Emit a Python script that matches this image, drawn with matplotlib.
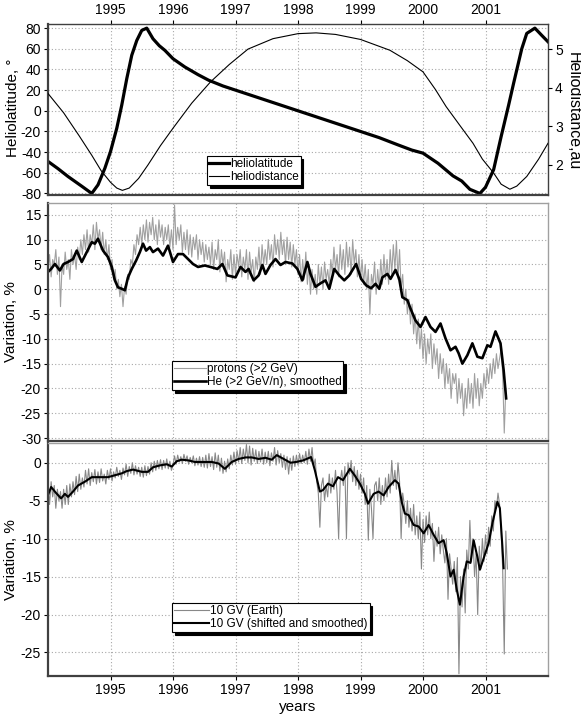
import numpy as np
import matplotlib
matplotlib.use("Agg")
import matplotlib.pyplot as plt

plt.rcParams["font.family"] = ["Liberation Sans", "DejaVu Sans"]
plt.rcParams["axes.unicode_minus"] = False

# ---- top panel: Ulysses heliolatitude and heliodistance
lat_years = [1994.00, 1994.16, 1994.32, 1994.54, 1994.70, 1994.80, 1994.91, 1995.00,
             1995.10, 1995.18, 1995.26, 1995.34, 1995.42, 1995.50, 1995.58, 1995.68,
             1995.78, 1995.87, 1996.00, 1996.19, 1996.40, 1996.57, 1996.80, 1997.00,
             1997.25, 1997.50, 1997.75, 1998.00, 1998.50, 1999.00, 1999.30, 1999.60,
             1999.82, 2000.00, 2000.24, 2000.48, 2000.62, 2000.75, 2000.91, 2001.00,
             2001.13, 2001.25, 2001.37, 2001.45, 2001.58, 2001.66, 2001.79, 2001.90,
             2002.00]
lat_deg = [-49, -56, -63.6, -73, -80, -71.7, -55.6, -39.5,
           -17, 5.5, 31, 53.7, 68, 77.8, 80, 69.7,
           63, 58.5, 50.4, 42.4, 35, 29.6, 24, 20,
           15, 10, 5, 0, -10, -20, -26, -33,
           -38, -41, -50.8, -63, -68, -76, -80, -74,
           -57, -25, 5.5, 26.7, 60, 74.9, 80, 73,
           66.8]

dist_years = [1994.00, 1994.25, 1994.50, 1994.70, 1994.85, 1995.00, 1995.10, 1995.19,
              1995.30, 1995.45, 1995.60, 1995.80, 1996.00, 1996.30, 1996.60, 1996.90,
              1997.20, 1997.60, 1998.00, 1998.29, 1998.60, 1999.00, 1999.47, 1999.75,
              2000.00, 2000.20, 2000.37, 2000.60, 2000.80, 2000.95, 2001.13, 2001.25,
              2001.39, 2001.50, 2001.66, 2001.85, 2002.00]
dist_au = [3.85, 3.35, 2.75, 2.25, 1.85, 1.55, 1.40, 1.34,
           1.40, 1.65, 2.00, 2.50, 2.95, 3.60, 4.15, 4.60,
           5.00, 5.27, 5.40, 5.42, 5.38, 5.25, 4.97, 4.70,
           4.41, 3.95, 3.51, 3.00, 2.56, 2.15, 1.79, 1.50,
           1.37, 1.45, 1.70, 2.15, 2.56]

# ---- daily-ish grey series, one value every 0.025 yr from 1994.0
SAMPLE_START = 1994.0
SAMPLE_STEP = 0.025

protons_var = [
    4, 7, 2.5, 6, 5, 8, 3, 6.5, -3.5, 5, 3, 7.5, 4, 6, 2, 8, 5, 7, 4, 8.5,
    6, 10, 7, 11, 8, 12, 7.5, 11, 9, 13, 8, 13.5, 10, 12, 8, 11.5, 7, 10, 6, 9,
    4, 6, 2, 4, 0, 2, -1.5, 1, -3.5, 0.5, -1, 3, 2, 6, 5, 9, 7, 11, 9, 12.5,
    9, 13, 10, 14, 9.5, 13.5, 11, 14.5, 10, 13, 9, 14, 10.5, 13, 9, 12.5, 10, 13, 8.5, 12,
    8, 17, 9, 12.5, 10, 13, 7.5, 11.5, 8, 12, 7, 11, 6.5, 10.5, 8, 11, 6, 10, 7, 9.5,
    5.5, 9, 6, 8.5, 5, 9.5, 4, 8, 6, 10, 3.5, 8, 5, 7.5, 1.5, 6, 4, 8, 2, 7,
    3, 7, 4.5, 8, 2.5, 6.5, 4, 8, 2, 7.5, 3.5, 6, 1.5, 6.5, 4, 8.5, 3, 9, 5, 8,
    5, 10, 6, 9, 4.5, 11, 7, 10, 6, 11.5, 7, 10, 5, 10.5, 6, 9.5, 4.5, 9, 5, 8,
    3, 7, 1.5, 6, 2, 7.5, 1, 5, -1, 4, 0, 3, -1, 5, 1, 4.5, 0, 5.5, 2, 4,
    1, 6, 3, 8.5, 4, 7, 2.5, 9, 4, 8, 3, 9.5, 4.5, 8.5, 3, 10, 5, 8, 2.5, 7,
    2, 6, 1, 5, 0, 4, -5, 3, 1, 5.5, -1, 4, 0, 6, 1, 7, 2, 6, 1, 8,
    3, 9, 4, 9.8, 2, 8, 0, 3, -3, 0, -5, -2, -7, -3, -9, -5, -11, -6, -12, -8,
    -14, -9, -15, -10, -13, -9, -16, -11, -15, -12, -18, -13, -17, -14, -20, -15, -19, -16, -22, -17,
    -19, -17, -23, -18, -22, -19, -25.5, -20, -24, -18, -23, -19, -24, -17, -22, -18, -23.5, -19, -22, -17,
    -20, -16, -19, -15, -18, -14, -17, -13, -16, -14, -12, -17, -29, -20,
]

earth_var = [
    -3, -5.5, -2.5, -4.5, -3, -6, -3.5, -5, -3.8, -6, -3.5, -5.5, -3, -5.5, -2.8, -4.5, -2.5, -4.2, -1.8, -3.8,
    -1.5, -3.5, -2, -3.2, -1, -2.8, -0.8, -3, -1.3, -2.5, -0.9, -2.8, -1.2, -2.6, -0.8, -2.4, -1.5, -2.8, -1, -2.2,
    -0.8, -2.4, -1.2, -2, -0.6, -1.8, -1, -2.2, -0.7, -1.6, -0.2, -1.8, -0.5, -1.4, 0, -1.6, -0.4, -1.5, -0.6, -1.8,
    -0.6, -1.9, -0.4, -1.7, -0.5, -1.5, 0, -1.2, 0.2, -1, 0.3, -0.8, 0.4, -0.9, 0.3, -0.7, 0.5, -0.8, 0.2, -1,
    -0.3, 0.9, -0.2, 1.0, 0.1, 0.8, -0.1, 1.1, 0.2, 0.9, -0.2, 0.7, 0, 0.9, -0.4, 0.6, -0.3, 0.8, -0.5, 0.7,
    -0.6, 1.0, -0.7, 1.2, -0.5, 0.8, -0.9, 1.3, -0.6, 1.0, -1.1, 0.6, -1.4, 0.2, -1.2, 0.5, -0.8, 1.0, -0.3, 1.4,
    -0.2, 1.6, 0.1, 2.0, -0.1, 1.8, 0.3, 2.4, 0, 2.2, -0.3, 1.9, 0.2, 1.7, -0.1, 1.5, 0.1, 1.8, -0.2, 1.4,
    0, 1.5, -0.4, 1.3, 0.2, 2.0, -0.3, 1.6, 0, 1.2, -0.6, 1.0, -0.9, 0.8, -1.5, 0.6, -1.0, 0.9, -0.5, 1.0,
    -0.3, 1.2, -0.1, 1.0, 0, 1.5, -0.2, 1.8, 0.2, 2.0, -0.5, 0.5, -2.5, -4, -8.5, -3, -2, -5, -3, -4.5,
    -1.5, -4, -2, -3.5, -1, -4, -10, -2.5, -1, -3, -0.5, -10, 0, -1.5, 0.3, -2.5, -0.5, -3, -1, -3.5,
    -1.5, -4, -2, -5.5, -3, -10.2, -3.5, -6, -10, -3, -2.5, -5, -2, -5.5, -3, -5, -2, -4.5, -1.5, -4,
    0.3, -3, -1, -3.5, 0, -2.5, -10, -4, -5.5, -8, -5, -8.5, -6, -9, -5.5, -9.5, -7, -10, -6.5, -14,
    -7.5, -10.5, -7, -9.5, -6.5, -10, -8, -13, -9, -11, -8.5, -12, -9.5, -11.5, -13.2, -10, -18, -12, -14, -16,
    -13, -17, -12.5, -27.8, -15, -19, -14, -19.8, -11.5, -14, -7.6, -13, -10, -15, -12, -20, -11, -14, -10, -13,
    -9.5, -12, -8.5, -11, -7, -9, -5, -6, -4, -5.5, -9, -14, -25.2, -9, -14,
]

# ---- middle panel: He smoothed
he_years = [1994.00, 1994.05, 1994.11, 1994.19, 1994.25, 1994.32, 1994.40, 1994.46,
            1994.54, 1994.62, 1994.70, 1994.75, 1994.80, 1994.88, 1994.96, 1995.02,
            1995.07, 1995.12, 1995.18, 1995.23, 1995.28, 1995.34, 1995.41, 1995.47,
            1995.52, 1995.57, 1995.63, 1995.68, 1995.76, 1995.84, 1995.92, 1996.00,
            1996.08, 1996.16, 1996.24, 1996.32, 1996.40, 1996.51, 1996.60, 1996.71,
            1996.79, 1996.87, 1997.00, 1997.08, 1997.16, 1997.21, 1997.29, 1997.37,
            1997.43, 1997.48, 1997.56, 1997.64, 1997.72, 1997.80, 1997.91, 1997.99,
            1998.07, 1998.15, 1998.20, 1998.28, 1998.36, 1998.44, 1998.50, 1998.58,
            1998.66, 1998.74, 1998.82, 1998.93, 1999.01, 1999.09, 1999.17, 1999.24,
            1999.30, 1999.35, 1999.43, 1999.48, 1999.56, 1999.62, 1999.67, 1999.75,
            1999.80, 1999.88, 1999.96, 2000.04, 2000.12, 2000.20, 2000.28, 2000.36,
            2000.44, 2000.52, 2000.57, 2000.63, 2000.71, 2000.79, 2000.87, 2000.95,
            2001.03, 2001.08, 2001.16, 2001.24, 2001.29, 2001.33]
he_var = [3.5, 4.1, 5.1, 3.8, 5.1, 5.5, 6.1, 7.8,
          5.5, 7.5, 9.5, 9.2, 10.2, 7.8, 6.5, 4.5,
          1.8, 0.4, 0.1, -0.2, 2.4, 4.1, 5.8, 7.5,
          9.2, 7.8, 8.5, 7.5, 8.2, 6.8, 8.8, 5.5,
          7.1, 7.1, 6.1, 5.1, 4.5, 4.8, 4.5, 4.1,
          5.1, 2.8, 2.4, 4.5, 3.5, 4.1, 1.8, 2.8,
          4.9, 3.1, 4.9, 6.1, 4.9, 5.5, 5.2, 4.1,
          1.8, 5.5, 3.1, 0.5, 1.2, 1.8, 0.1, 4.1,
          2.8, 1.8, 2.8, 5.1, 2.1, 0.8, 0.2, 1.1,
          0.1, 2.4, 3.1, 2.1, 3.9, 2.1, -1.6, -2.2,
          -3.9, -6.3, -7.6, -5.6, -7.6, -8.6, -6.9, -9.9,
          -12.3, -11.6, -12.9, -15.0, -13.3, -10.9, -13.6, -13.9,
          -11.3, -11.6, -8.5, -10.9, -16.3, -22.0]

# ---- bottom panel: 10 GV shifted and smoothed
shifted_years = [1994.00, 1994.05, 1994.13, 1994.21, 1994.27, 1994.32, 1994.40, 1994.48,
                 1994.59, 1994.70, 1994.80, 1994.96, 1995.07, 1995.18, 1995.26, 1995.36,
                 1995.50, 1995.60, 1995.68, 1995.79, 1995.90, 1995.98, 1996.06, 1996.14,
                 1996.25, 1996.35, 1996.46, 1996.62, 1996.73, 1996.83, 1996.94, 1997.05,
                 1997.16, 1997.26, 1997.37, 1997.48, 1997.58, 1997.66, 1997.77, 1997.88,
                 1997.97, 1998.08, 1998.21, 1998.27, 1998.35, 1998.40, 1998.48, 1998.56,
                 1998.64, 1998.72, 1998.83, 1998.91, 1998.99, 1999.07, 1999.12, 1999.21,
                 1999.29, 1999.37, 1999.45, 1999.55, 1999.61, 1999.66, 1999.71, 1999.77,
                 1999.85, 1999.93, 2000.01, 2000.09, 2000.17, 2000.25, 2000.33, 2000.38,
                 2000.44, 2000.49, 2000.54, 2000.59, 2000.65, 2000.70, 2000.76, 2000.81,
                 2000.87, 2000.91, 2000.97, 2001.05, 2001.11, 2001.19, 2001.23, 2001.27,
                 2001.29]
shifted_var = [-4.26, -3.2, -4.0, -4.7, -4.1, -4.5, -3.8, -3.0,
               -2.5, -1.9, -1.9, -1.9, -1.65, -1.4, -1.1, -0.9,
               -1.2, -1.2, -0.6, -0.35, -0.2, -0.5, 0.2, 0.4,
               0.3, 0.1, 0.1, 0.1, -0.1, -0.8, 0.1, 0.5,
               0.7, 0.7, 0.5, 0.65, 0.4, 1.0, 0.5, 0.0,
               0.1, 0.3, 0.75, -1.0, -3.8, -3.6, -2.75, -3.1,
               -1.9, -2.3, -0.8, -1.7, -2.75, -4.1, -5.4, -4.1,
               -3.8, -4.3, -3.2, -2.3, -2.75, -5.2, -6.7, -6.9,
               -8.2, -8.4, -9.3, -8.2, -9.5, -10.6, -10.2, -11.9,
               -15.0, -14.1, -16.7, -18.7, -15.0, -13.0, -13.2, -10.2,
               -12.4, -14.1, -12.6, -10.6, -8.0, -5.15, -6.0, -11.0,
               -13.9]

year_ticks = [1995, 1996, 1997, 1998, 1999, 2000, 2001]

W, H = 581, 719


def sample_years(values):
    return SAMPLE_START + SAMPLE_STEP * np.arange(len(values))


def style_axes(ax, full_frame=False):
    ax.set_xlim(1994, 2002)
    ax.set_xticks(year_ticks)
    ax.grid(True, color="#a8a8a8", linestyle=(0, (1, 2)), linewidth=0.8)
    ax.set_axisbelow(True)
    ax.tick_params(direction="out", length=3, width=0.8, pad=2, labelsize=10, colors="black")
    for side in ["left", "bottom"]:
        ax.spines[side].set_color("#404040")
        ax.spines[side].set_linewidth(1.6)
    for side in ["top", "right"]:
        ax.spines[side].set_color("#404040" if full_frame else "#a0a0a0")
        ax.spines[side].set_linewidth(1.0)


def add_legend(ax, handles, labels, anchor, hlen):
    leg = ax.legend(handles, labels, loc="lower left", bbox_to_anchor=anchor,
                    borderaxespad=0, fontsize=8.5, frameon=True, fancybox=False,
                    framealpha=1, edgecolor="black", handlelength=hlen,
                    handletextpad=0.1, labelspacing=0.1, borderpad=0.15,
                    shadow={"color": "black", "alpha": 1.0})
    leg.get_frame().set_linewidth(0.8)
    return leg


def px_label(x, y, text, rotation=90, size=11.5):
    fig.text(x / W, 1 - y / H, text, rotation=rotation, ha="center", va="center",
             fontsize=size)


fig = plt.figure(figsize=(W / 100, H / 100), dpi=100)
left, width = 48 / W, 500 / W

# top panel
ax1 = fig.add_axes([left, (H - 195) / H, width, 171 / H])
style_axes(ax1, full_frame=True)
l1, = ax1.plot(lat_years, lat_deg, color="black", linewidth=2.3)
ax1.set_ylim(-81.5, 84)
ax1.set_yticks(range(-80, 81, 20))
ax1.tick_params(axis="x", top=True, bottom=False, labeltop=True, labelbottom=False)

ax1r = ax1.twinx()
l2, = ax1r.plot(dist_years, dist_au, color="black", linewidth=0.8)
ax1r.set_ylim(1.22, 5.65)
ax1r.set_yticks([2, 3, 4, 5])
ax1r.tick_params(direction="out", length=3, pad=2, labelsize=10)
for s in ax1r.spines.values():
    s.set_visible(False)
add_legend(ax1r, [l1, l2], ["heliolatitude", "heliodistance"], (0.318, 0.058), 1.7)
px_label(13, 108, "Heliolatitude, \u00b0", size=11)
px_label(573, 111, "Heliodistance,au", rotation=270)

# middle panel
ax2 = fig.add_axes([left, (H - 441) / H, width, 238 / H])
style_axes(ax2)
p1, = ax2.plot(sample_years(protons_var), protons_var, color="#a0a0a0", linewidth=0.8)
p2, = ax2.plot(he_years, he_var, color="black", linewidth=1.9)
ax2.set_ylim(-30.6, 17.4)
ax2.set_yticks(range(-30, 16, 5))
ax2.tick_params(axis="x", labelbottom=False, length=0)
add_legend(ax2, [p1, p2], ["protons (>2 GeV)", "He (>2 GeV/n), smoothed"], (0.248, 0.214), 2.7)
px_label(11, 322, "Variation, %", size=11)

# bottom panel
ax3 = fig.add_axes([left, (H - 676) / H, width, 233 / H])
style_axes(ax3)
e1, = ax3.plot(sample_years(earth_var), earth_var, color="#888888", linewidth=0.8)
e2, = ax3.plot(shifted_years, shifted_var, color="black", linewidth=1.5)
ax3.set_ylim(-28.1, 2.6)
ax3.set_yticks(range(-25, 1, 5))
ax3.set_xlabel("years", fontsize=11, labelpad=2)
add_legend(ax3, [e1, e2], ["10 GV (Earth)", "10 GV (shifted and smoothed)"], (0.248, 0.189), 3.0)
px_label(11, 560, "Variation, %", size=11)

fig.savefig("out.png", dpi=100)
